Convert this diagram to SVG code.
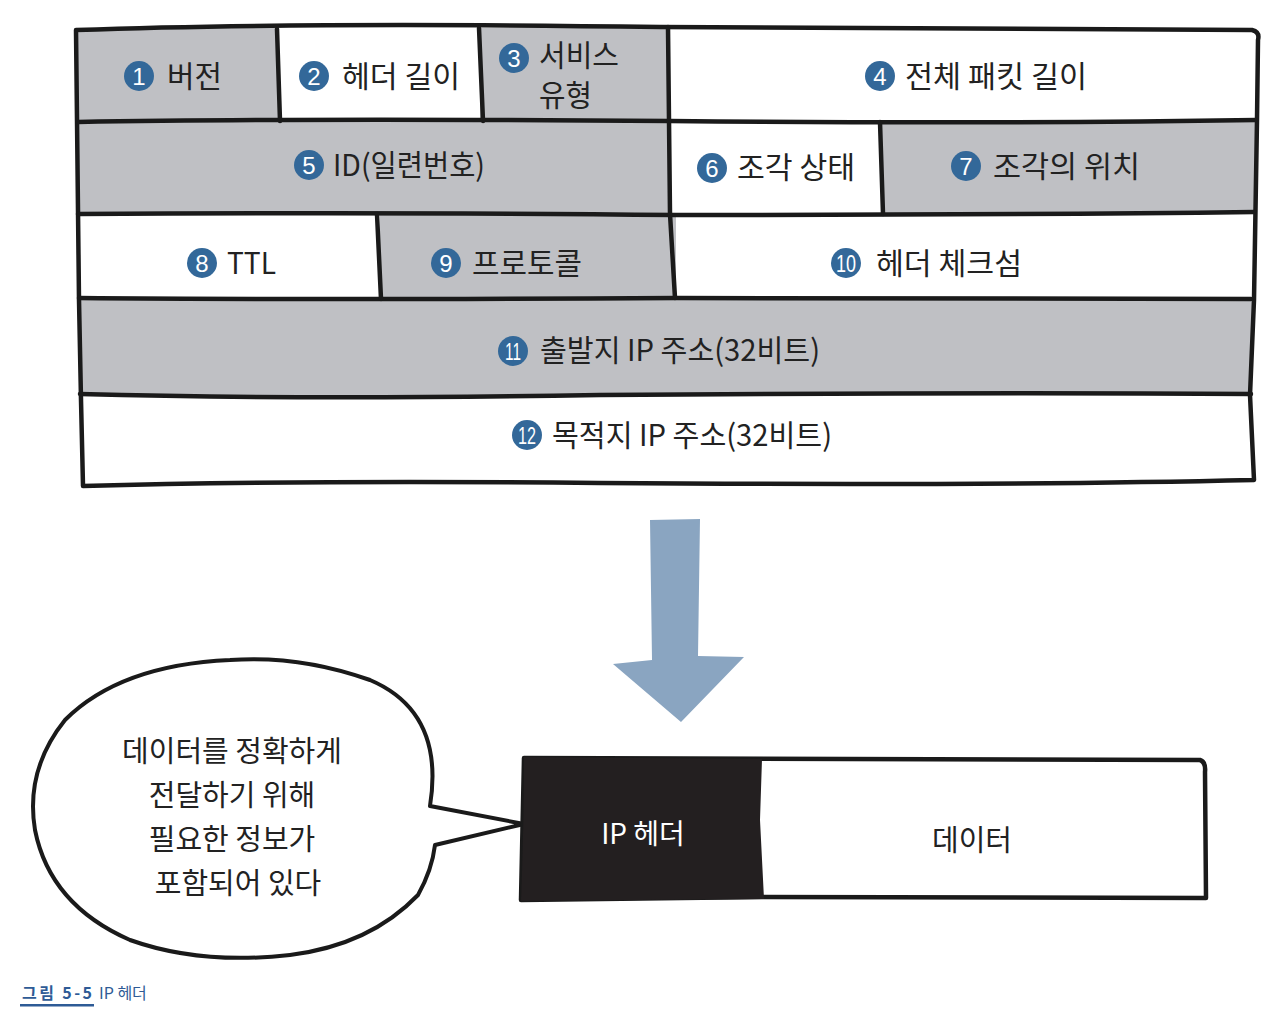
<svg xmlns="http://www.w3.org/2000/svg" width="1280" height="1024" viewBox="0 0 1280 1024">
<style>
.g{fill:#bfc0c4}
.w{fill:#ffffff}
.ln{fill:none;stroke:#1a1a1a;stroke-width:4.5;stroke-linejoin:round;stroke-linecap:round}
.t{font-family:"Noto Sans CJK KR","Noto Sans",sans-serif;font-size:30px;fill:#222}
.b{fill:#336899}
.bn{font-family:"Liberation Sans Narrow","Liberation Sans","Noto Sans",sans-serif;font-size:24px;fill:#fff;text-anchor:middle}
.bt{font-family:"Noto Sans CJK KR","Noto Sans",sans-serif;font-size:29px;fill:#222;text-anchor:middle}
</style>
<rect width="1280" height="1024" fill="#fff"/>
<g id="cells">
<g id="c1"><rect class="g" x="78" y="28" width="200" height="93"/><circle class="b" cx="139" cy="76" r="15"/><text class="bn" x="139" y="85">1</text><text class="t" x="167" y="87" textLength="55" lengthAdjust="spacingAndGlyphs">버전</text></g>
<g id="c2"><rect class="w" x="278" y="28" width="202" height="93"/><circle class="b" cx="314" cy="76" r="15"/><text class="bn" x="314" y="85">2</text><text class="t" x="342" y="87" textLength="118" lengthAdjust="spacingAndGlyphs">헤더 길이</text></g>
<g id="c3"><rect class="g" x="480" y="28" width="189" height="93"/><circle class="b" cx="514" cy="58" r="15"/><text class="bn" x="514" y="67">3</text><text class="t" x="539" y="66" textLength="80" lengthAdjust="spacingAndGlyphs">서비스</text><text class="t" x="539" y="106" textLength="53" lengthAdjust="spacingAndGlyphs">유형</text></g>
<g id="c4"><rect class="w" x="669" y="28" width="588" height="93"/><circle class="b" cx="880" cy="76" r="15"/><text class="bn" x="880" y="85">4</text><text class="t" x="905" y="87" textLength="182" lengthAdjust="spacingAndGlyphs">전체 패킷 길이</text></g>
<g id="c5"><rect class="g" x="78" y="121" width="592" height="93"/><circle class="b" cx="309" cy="165" r="15"/><text class="bn" x="309" y="174">5</text><text class="t" x="333" y="176" textLength="152" lengthAdjust="spacingAndGlyphs">ID(일련번호)</text></g>
<g id="c6"><rect class="w" x="670" y="121" width="211" height="93"/><circle class="b" cx="712" cy="168" r="15"/><text class="bn" x="712" y="177">6</text><text class="t" x="737" y="178" textLength="118" lengthAdjust="spacingAndGlyphs">조각 상태</text></g>
<g id="c7"><rect class="g" x="881" y="121" width="374" height="93"/><circle class="b" cx="966" cy="166" r="15"/><text class="bn" x="966" y="175">7</text><text class="t" x="993" y="177" textLength="147" lengthAdjust="spacingAndGlyphs">조각의 위치</text></g>
<g id="c8"><rect class="w" x="78" y="214" width="302" height="85"/><circle class="b" cx="202" cy="263" r="15"/><text class="bn" x="202" y="272">8</text><text class="t" x="227" y="274" textLength="49" lengthAdjust="spacingAndGlyphs">TTL</text></g>
<g id="c9"><rect class="g" x="380" y="214" width="296" height="85"/><circle class="b" cx="446" cy="263" r="15"/><text class="bn" x="446" y="272">9</text><text class="t" x="472" y="274" textLength="110" lengthAdjust="spacingAndGlyphs">프로토콜</text></g>
<g id="c10"><rect class="w" x="676" y="214" width="578" height="85"/><circle class="b" cx="846" cy="263" r="15"/><text class="bn" x="846" y="272" textLength="20" lengthAdjust="spacingAndGlyphs">10</text><text class="t" x="876" y="274" textLength="146" lengthAdjust="spacingAndGlyphs">헤더 체크섬</text></g>
<g id="c11"><rect class="g" x="80" y="299" width="1172" height="96"/><circle class="b" cx="513" cy="351" r="15"/><text class="bn" x="513" y="360" textLength="16" lengthAdjust="spacingAndGlyphs">11</text><text class="t" x="540" y="361" textLength="280" lengthAdjust="spacingAndGlyphs">출발지 IP 주소(32비트)</text></g>
<g id="c12"><rect class="w" x="82" y="395" width="1172" height="90"/><circle class="b" cx="527" cy="435" r="15"/><text class="bn" x="527" y="444" textLength="18" lengthAdjust="spacingAndGlyphs">12</text><text class="t" x="552" y="446" textLength="280" lengthAdjust="spacingAndGlyphs">목적지 IP 주소(32비트)</text></g>
</g>
<g id="grid">
<path class="ln" d="M76,30 Q300,22 660,27 Q1000,30 1252,30 Q1260,32 1258,40 L1257,120 L1254,300 L1250,395 L1254,480 Q1000,486 600,483 Q300,480 83,486 L81,400 L79,300 L77,120 Z"/>
<path class="ln" d="M78,122 Q300,118 670,121 Q1000,124 1256,120"/>
<path class="ln" d="M78,214 Q400,212 676,215 Q1000,215 1254,212"/>
<path class="ln" d="M79,298 Q300,300 677,298 Q1000,298 1251,299"/>
<path class="ln" d="M80,394 Q300,400 600,395 Q1000,392 1251,394"/>
<path class="ln" d="M277,29 L280,121"/>
<path class="ln" d="M479,28 L483,121"/>
<path class="ln" d="M668,27 L670,214 L675,298"/>
<path class="ln" d="M880,122 L883,214"/>
<path class="ln" d="M377,214 L381,299"/>
</g>
<g id="arrow">
<path fill="#8aa5c1" d="M650,520 L700,519 L698,656 L744,657 L681,722 L613,664 L652,660 Z"/>
</g>
<g id="bubble">
<path fill="#fff" stroke="#1a1a1a" stroke-width="4" stroke-linejoin="round" d="M430,806 Q445,712 370,680 Q300,655 230,660 Q120,665 65,720 Q25,770 35,830 Q50,905 130,940 Q200,965 290,955 Q370,945 418,895 Q432,870 435,845 L524,824 Z"/>
<text class="bt" x="232" y="762">데이터를 정확하게</text>
<text class="bt" x="232" y="806">전달하기 위해</text>
<text class="bt" x="232" y="850">필요한 정보가</text>
<text class="bt" x="238" y="894">포함되어 있다</text>
</g>
<g id="packet">
<path fill="#fff" stroke="#1a1a1a" stroke-width="4.5" stroke-linejoin="round" d="M524,758 L1200,760 Q1206,762 1205,772 L1206,898 L762,897 L521,900 Z"/>
<path fill="#231f20" d="M524,757 L762,759 L760,820 L764,899 L521,901 Q524,820 524,757 Z"/>
<text x="643" y="844" text-anchor="middle" font-family="Noto Sans CJK KR,sans-serif" font-size="28" fill="#fff">IP 헤더</text>
<text x="972" y="851" text-anchor="middle" font-family="Noto Sans CJK KR,sans-serif" font-size="29" fill="#222">데이터</text>
</g>
<g id="caption">
<text x="22" y="999" font-family="Noto Sans CJK KR,sans-serif" font-size="16" font-weight="bold" fill="#2e5b96" textLength="70" lengthAdjust="spacing">그림 5-5</text>
<text x="99" y="999" font-family="Noto Sans CJK KR,sans-serif" font-size="16" fill="#2e5b96">IP 헤더</text>
<rect x="20" y="1004" width="74" height="2.5" fill="#2e5b96"/>
</g>
</svg>
